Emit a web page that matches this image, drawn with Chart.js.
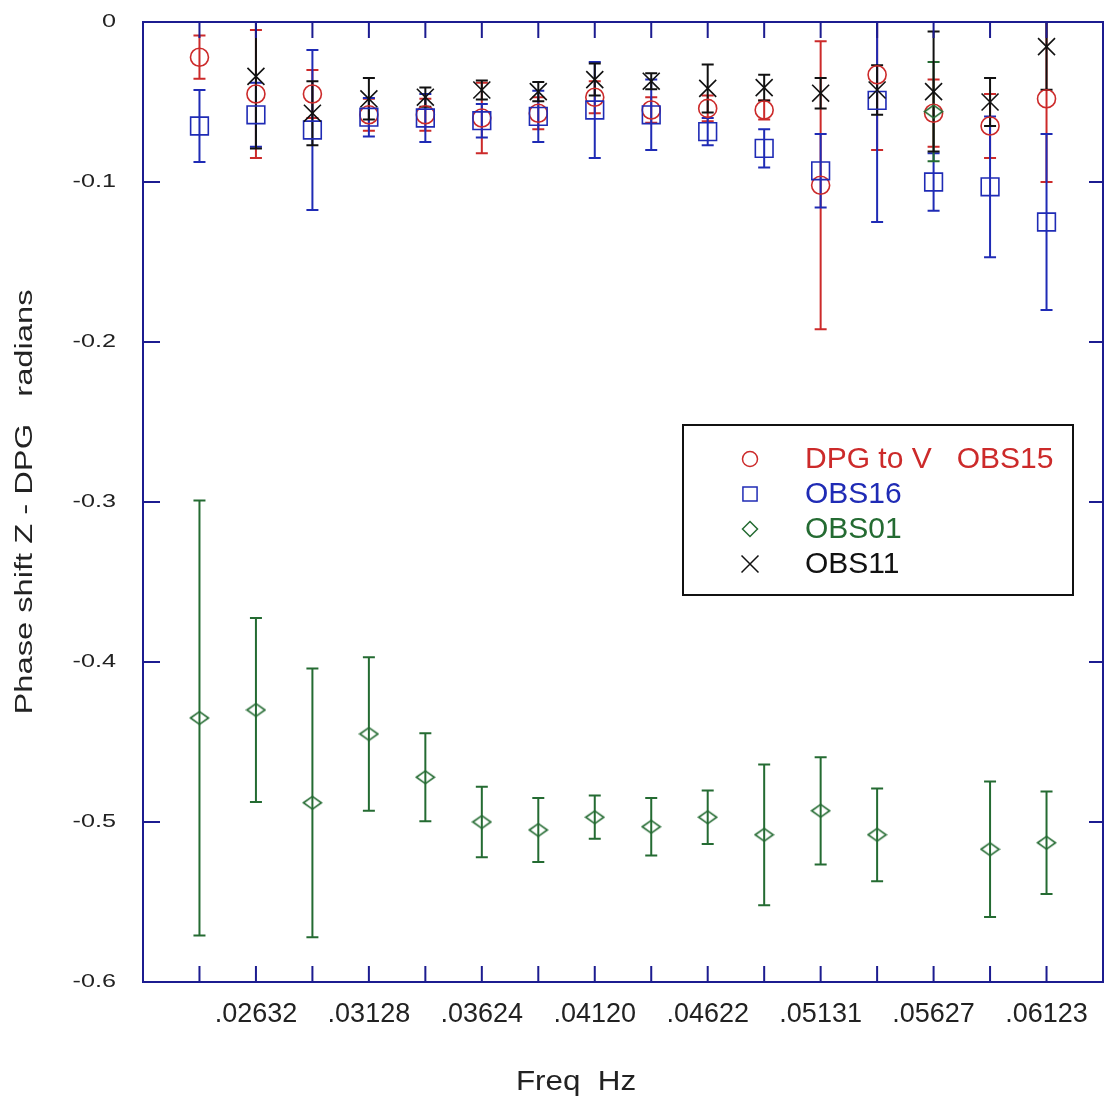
<!DOCTYPE html>
<html>
<head>
<meta charset="utf-8">
<title>Phase shift Z - DPG</title>
<script src="https://cdn.jsdelivr.net/npm/chart.js@4.4.1/dist/chart.umd.min.js"></script>
<style>
  html, body { margin: 0; padding: 0; background: #fff; }
  #wrap { position: relative; width: 1104px; height: 1101px; }
</style>
</head>
<body>
<div id="wrap"><canvas id="phaseChart"></canvas></div>
<script>
// frequency slots along the x axis, and the labels printed under them
const freqIndex = [1, 2, 3, 4, 5, 6, 7, 8, 9, 10, 11, 12, 13, 14, 15, 16];
const freqLabels = ['', '.02632', '', '.03128', '', '.03624', '', '.04120',
                    '', '.04622', '', '.05131', '', '.05627', '', '.06123'];

const yTicks = [0, -0.1, -0.2, -0.3, -0.4, -0.5, -0.6];
const yTickLabels = ['0', '-0.1', '-0.2', '-0.3', '-0.4', '-0.5', '-0.6'];

// DPG to V  OBS15
const obs15 = [-0.022, -0.045, -0.045, -0.058, -0.058, -0.060, -0.057, -0.047,
               -0.055, -0.054, -0.055, -0.102, -0.033, -0.057, -0.065, -0.048];
const obs15Err = [0.0135, 0.040, 0.015, 0.010, 0.010, 0.022, 0.010, 0.010,
                  0.008, 0.008, 0.006, 0.090, 0.047, 0.021, 0.020, 0.052];

// OBS16
const obs16 = [-0.065, -0.058, -0.0675, -0.0595, -0.060, -0.0617, -0.059, -0.055,
               -0.058, -0.0685, -0.079, -0.093, -0.049, -0.100, -0.103, -0.125];
const obs16Err = [0.0225, 0.020, 0.050, 0.012, 0.015, 0.0105, 0.016, 0.030,
                  0.022, 0.0085, 0.012, 0.023, 0.076, 0.018, 0.044, 0.055];

// OBS01
const obs01 = [-0.435, -0.430, -0.488, -0.445, -0.472, -0.500, -0.505, -0.497,
               -0.503, -0.497, -0.508, -0.493, -0.508, -0.056, -0.517, -0.513];
const obs01Err = [0.136, 0.0575, 0.084, 0.048, 0.0275, 0.022, 0.020, 0.0135,
                  0.018, 0.0167, 0.044, 0.0335, 0.029, 0.031, 0.0423, 0.032];

// OBS11 (no value at the first frequency)
const obs11 = [null, -0.034, -0.057, -0.048, -0.047, -0.0425, -0.0435, -0.036,
               -0.037, -0.0415, -0.041, -0.0445, -0.0425, -0.0435, -0.050, -0.0154];
const obs11Err = [null, 0.045, 0.020, 0.013, 0.006, 0.006, 0.006, 0.010,
                  0.005, 0.015, 0.008, 0.0095, 0.0155, 0.0375, 0.015, 0.027];

const RED = '#cc2a2a';
const BLUE = '#1f2bb5';
const GREEN = '#246b32';
const BLACK = '#111111';
const FRAME = '#1c1c90';

function toPoints(vals, errs) {
    return freqIndex
        .map((x, i) => ({ x: x, y: vals[i], err: errs[i] }))
        .filter(p => p.y !== null);
}

// flattened open diamond used for OBS01
function makeDiamond(color) {
    const c = document.createElement('canvas');
    c.width = 21;
    c.height = 15;
    const g = c.getContext('2d');
    g.strokeStyle = color;
    g.lineWidth = 1.6;
    g.beginPath();
    g.moveTo(1.5, 7.5);
    g.lineTo(10.5, 1.2);
    g.lineTo(19.5, 7.5);
    g.lineTo(10.5, 13.8);
    g.closePath();
    g.stroke();
    return c;
}

const errorBars = {
    id: 'errorBars',
    beforeDatasetsDraw(chart) {
        const { ctx, chartArea: a, scales: { x, y } } = chart;
        ctx.save();
        ctx.beginPath();
        ctx.rect(a.left, a.top, a.right - a.left, a.bottom - a.top);
        ctx.clip();
        chart.data.datasets.forEach(ds => {
            ctx.strokeStyle = ds.borderColor;
            ctx.lineWidth = 2;
            ds.data.forEach(p => {
                const px = x.getPixelForValue(p.x);
                const top = y.getPixelForValue(p.y + p.err);
                const bot = y.getPixelForValue(p.y - p.err);
                ctx.beginPath();
                ctx.moveTo(px, top); ctx.lineTo(px, bot);
                ctx.moveTo(px - 6, top); ctx.lineTo(px + 6, top);
                ctx.moveTo(px - 6, bot); ctx.lineTo(px + 6, bot);
                ctx.stroke();
            });
        });
        ctx.restore();
    }
};

const frame = {
    id: 'frame',
    afterDatasetsDraw(chart) {
        const { ctx, chartArea: a, scales: { x, y } } = chart;
        ctx.save();
        ctx.strokeStyle = FRAME;
        ctx.lineWidth = 2;
        ctx.strokeRect(a.left, a.top, a.right - a.left, a.bottom - a.top);
        ctx.beginPath();
        x.ticks.forEach(t => {
            const px = x.getPixelForValue(t.value);
            ctx.moveTo(px, a.top); ctx.lineTo(px, a.top + 16);
            ctx.moveTo(px, a.bottom); ctx.lineTo(px, a.bottom - 16);
        });
        y.ticks.forEach(t => {
            const py = y.getPixelForValue(t.value);
            ctx.moveTo(a.left, py); ctx.lineTo(a.left + 17, py);
            ctx.moveTo(a.right, py); ctx.lineTo(a.right - 14, py);
        });
        ctx.stroke();
        ctx.restore();
    }
};

// y tick labels and both axis titles (the source uses stretched lettering)
const axisText = {
    id: 'axisText',
    afterDraw(chart) {
        const { ctx, chartArea: a, scales: { y } } = chart;
        ctx.save();
        ctx.fillStyle = '#222';
        ctx.font = '18px "Liberation Sans", Arial, sans-serif';
        ctx.textAlign = 'right';
        ctx.textBaseline = 'middle';
        yTicks.forEach((v, i) => {
            ctx.save();
            ctx.translate(a.left - 27, y.getPixelForValue(v));
            ctx.scale(1.4, 1);
            ctx.fillText(yTickLabels[i], 0, 0);
            ctx.restore();
        });

        ctx.textAlign = 'center';
        ctx.textBaseline = 'alphabetic';
        ctx.font = '28px "Liberation Sans", Arial, sans-serif';
        ctx.save();
        ctx.translate(576, 1090);
        ctx.scale(1.12, 1);
        ctx.fillText('Freq  Hz', 0, 0);
        ctx.restore();

        const yTitle = 'Phase shift Z - DPG   radians';
        ctx.font = '23px "Liberation Sans", Arial, sans-serif';
        const w = ctx.measureText(yTitle).width;
        ctx.save();
        ctx.translate(32, 502);
        ctx.rotate(-Math.PI / 2);
        ctx.scale(425 / w, 1);
        ctx.fillText(yTitle, 0, 0);
        ctx.restore();
        ctx.restore();
    }
};

const legendBox = {
    id: 'legendBox',
    afterDraw(chart) {
        const { ctx } = chart;
        ctx.save();
        ctx.fillStyle = '#fff';
        ctx.fillRect(683, 425, 390, 170);
        ctx.strokeStyle = '#111';
        ctx.lineWidth = 2;
        ctx.strokeRect(683, 425, 390, 170);

        const rows = [
            { text: 'DPG to V   OBS15', color: RED, style: 'circle', r: 7.5 },
            { text: 'OBS16', color: BLUE, style: 'rect', r: 10 },
            { text: 'OBS01', color: GREEN, style: 'rectRot', r: 7.5 },
            { text: 'OBS11', color: BLACK, style: 'crossRot', r: 12 }
        ];
        ctx.font = '30px "Liberation Sans", Arial, sans-serif';
        ctx.textAlign = 'left';
        ctx.textBaseline = 'alphabetic';
        rows.forEach((row, i) => {
            const base = 468 + i * 35;
            ctx.fillStyle = 'rgba(0,0,0,0)';
            ctx.strokeStyle = row.color;
            ctx.lineWidth = 1.5;
            Chart.helpers.drawPoint(ctx, { pointStyle: row.style, radius: row.r, rotation: 0, borderWidth: 1.5 }, 750, base - 9);
            ctx.fillStyle = row.color;
            ctx.fillText(row.text, 805, base);
        });
        ctx.restore();
    }
};

const ctx = document.getElementById('phaseChart');

new Chart(ctx, {
    type: 'scatter',
    data: {
        datasets: [
            {
                label: 'DPG to V  OBS15',
                data: toPoints(obs15, obs15Err),
                borderColor: RED,
                backgroundColor: 'rgba(0,0,0,0)',
                pointStyle: 'circle',
                pointRadius: 9,
                borderWidth: 1.6,
                order: 4
            },
            {
                label: 'OBS16',
                data: toPoints(obs16, obs16Err),
                borderColor: BLUE,
                backgroundColor: 'rgba(0,0,0,0)',
                pointStyle: 'rect',
                pointRadius: 12.5,
                borderWidth: 1.6,
                order: 3
            },
            {
                label: 'OBS01',
                data: toPoints(obs01, obs01Err),
                borderColor: GREEN,
                backgroundColor: 'rgba(0,0,0,0)',
                pointStyle: makeDiamond(GREEN),
                pointRadius: 9,
                borderWidth: 1.6,
                order: 2
            },
            {
                label: 'OBS11',
                data: toPoints(obs11, obs11Err),
                borderColor: BLACK,
                backgroundColor: 'rgba(0,0,0,0)',
                pointStyle: 'crossRot',
                pointRadius: 12,
                borderWidth: 1.6,
                order: 1
            }
        ]
    },
    options: {
        responsive: true,
        maintainAspectRatio: false,
        animation: false,
        events: [],
        layout: { autoPadding: false, padding: { top: 22, right: 1, bottom: 0, left: 0 } },
        plugins: {
            legend: { display: false },
            tooltip: { enabled: false }
        },
        scales: {
            x: {
                type: 'linear',
                min: 0,
                max: 17,
                afterFit: scale => {
                    scale.height = 119;
                    scale.paddingLeft = 0;
                    scale.paddingRight = 0;
                },
                afterBuildTicks: scale => { scale.ticks = freqIndex.map(v => ({ value: v })); },
                grid: { display: false, drawTicks: false },
                border: { display: false },
                ticks: {
                    autoSkip: false,
                    maxRotation: 0,
                    minRotation: 0,
                    padding: 16,
                    color: '#222',
                    font: { family: '"Liberation Sans", Arial, sans-serif', size: 27 },
                    callback: (value, index) => freqLabels[index]
                }
            },
            y: {
                type: 'linear',
                min: -0.6,
                max: 0,
                afterFit: scale => {
                    scale.width = 143;
                    scale.paddingTop = 0;
                    scale.paddingBottom = 0;
                },
                afterBuildTicks: scale => { scale.ticks = yTicks.map(v => ({ value: v })); },
                grid: { display: false, drawTicks: false },
                border: { display: false },
                ticks: { display: false }
            }
        }
    },
    plugins: [errorBars, frame, axisText, legendBox]
});
</script>
</body>
</html>
